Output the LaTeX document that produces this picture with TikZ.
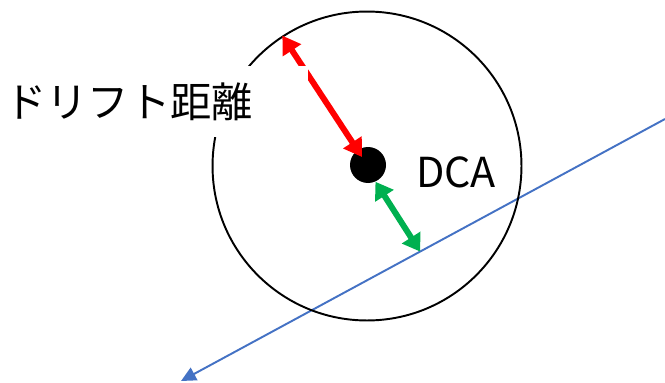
\documentclass[tikz,border=0pt]{standalone}
\usepackage{fontspec}
\newfontfamily\jpfont{Noto Sans CJK JP}
\usetikzlibrary{arrows.meta,calc}
\definecolor{driftRed}{RGB}{255, 0, 0}
\definecolor{dcaGreen}{RGB}{0, 176, 80}
\definecolor{trackBlue}{RGB}{68, 114, 196}

\begin{document}
\begin{tikzpicture}[
  x=0.02cm, y=-0.02cm,
  bigtext/.style={
    font=\jpfont\fontsize{23.5pt}{28pt}\selectfont,
    inner sep=0pt
  },
  track/.style={-{Triangle[length=8.5pt,width=8pt]},line width=1.1pt,trackBlue},
  drift/.style={{Triangle[length=10pt,width=12pt]}-{Triangle[length=10pt,width=12pt]},line width=3.4pt,driftRed},
  dist/.style={{Triangle[length=9.5pt,width=12pt]}-{Triangle[length=9.5pt,width=12pt]},line width=3.4pt,dcaGreen}
]
  \useasboundingbox (0,0) rectangle (665,382);
  \coordinate (trackA) at (665,119);
  \coordinate (trackB) at (181,381);
  \draw[track] (trackA) -- (trackB);
  \node[draw,circle,line width=1.1pt,minimum size=6.18cm,inner sep=0pt] (circ) at (367,166) {};
  \node[circle,fill=black,minimum size=0.72cm,inner sep=0pt] (dca) at (368,165) {};
  \coordinate (hit) at ($(trackA)!0.506!(trackB)$);
  \coordinate (center) at (362,157);
  \draw[dist] (dca.-66) -- (hit);
  \draw[drift] (circ.123.4) -- (center);
  \node[bigtext,fill=white,anchor=west,minimum height=1.42cm,text width=5.96cm,inner xsep=0.1cm,align=left] (label) at (0,101.5) {ドリフト距離};
  \node[bigtext] (dcalabel) at (456,172) {DCA};
\end{tikzpicture}
\end{document}
